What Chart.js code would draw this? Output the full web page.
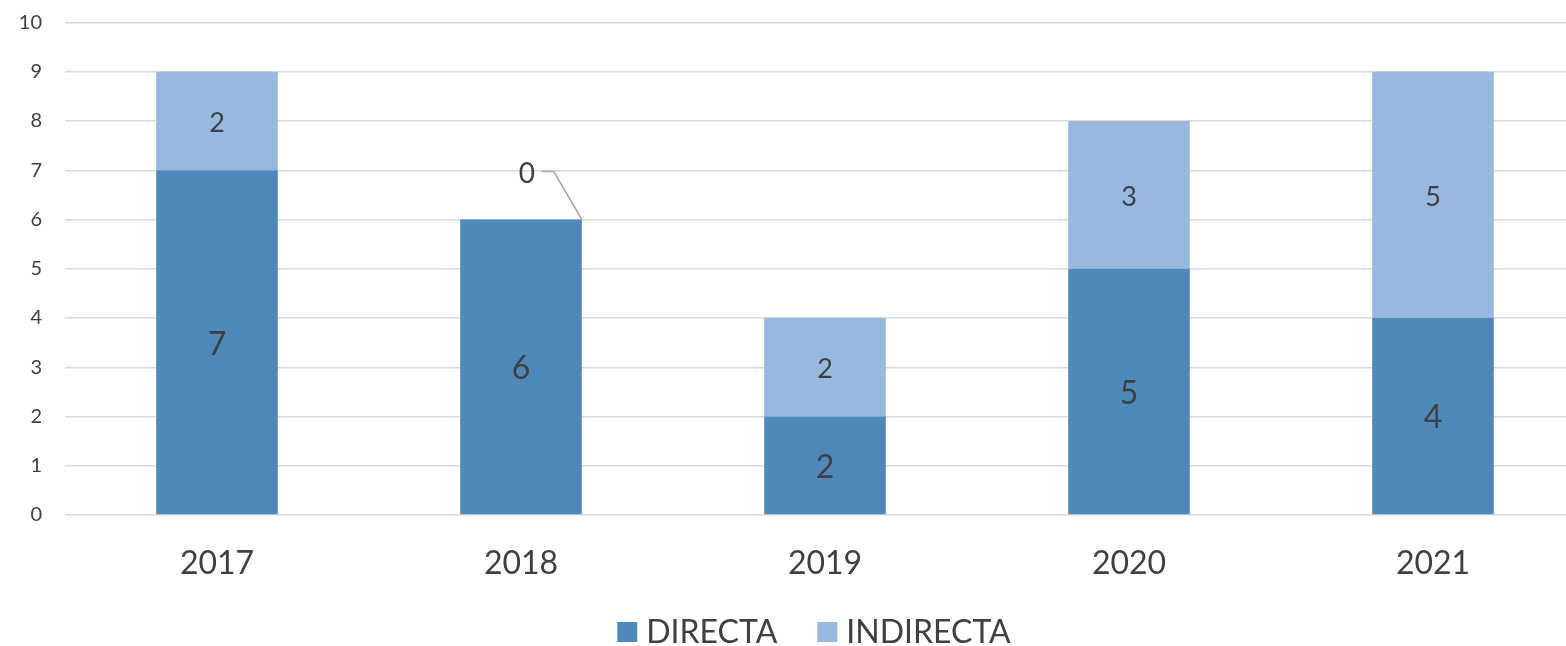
<!DOCTYPE html>
<html>
<head>
<meta charset="utf-8">
<script src="https://cdn.jsdelivr.net/npm/chart.js@4/dist/chart.umd.min.js"></script>
<style>
html,body{margin:0;padding:0;overflow:hidden;background:#fff;}
#wrap{width:1628px;height:646px;}
</style>
</head>
<body>
<div id="wrap"><canvas id="c" width="1628" height="646"></canvas></div>
<script>
const categories = ["2017", "2018", "2019", "2020", "2021"];
const directa = [7, 6, 2, 5, 4];
const indirecta = [2, 0, 2, 3, 5];
const yTicks = [0, 1, 2, 3, 4, 5, 6, 7, 8, 9, 10];

const FONT = "Lato, 'Open Sans', sans-serif";
const TXT = "#404040";

const labelPlugin = {
  id: "barLabels",
  afterDatasetsDraw(chart) {
    const ctx = chart.ctx;
    ctx.save();
    ctx.textAlign = "center";
    ctx.textBaseline = "middle";
    ctx.fillStyle = TXT;
    chart.data.datasets.forEach((ds, di) => {
      const meta = chart.getDatasetMeta(di);
      const size = di === 0 ? 32 : 27;
      meta.data.forEach((bar, i) => {
        const v = ds.data[i];
        if (v === 0) {
          const rx = bar.x + bar.width / 2;
          const ty = bar.y;
          ctx.strokeStyle = "#a6a6a6";
          ctx.lineWidth = 1.5;
          ctx.beginPath();
          ctx.moveTo(rx, ty);
          ctx.lineTo(rx - 28, ty - 48);
          ctx.lineTo(rx - 40, ty - 48);
          ctx.stroke();
          ctx.font = "28px " + FONT;
          ctx.fillText(String(v), rx - 55, ty - 46);
        } else {
          ctx.font = size + "px " + FONT;
          ctx.fillText(String(v), bar.x, (bar.y + bar.base) / 2 + 2);
        }
      });
    });
    ctx.restore();
  }
};

const legendPlugin = {
  id: "customLegend",
  afterDraw(chart) {
    const ctx = chart.ctx;
    ctx.save();
    ctx.font = "32px " + FONT;
    ctx.textBaseline = "middle";
    ctx.textAlign = "left";
    const box = 20, gap = 9, itemGap = 40, cy = 632;
    const items = chart.data.datasets.map(ds => ({ text: ds.label, color: ds.backgroundColor, w: ctx.measureText(ds.label).width }));
    let total = 0;
    items.forEach((it, i) => { total += box + gap + it.w + (i ? itemGap : 0); });
    let x = 814 - total / 2;
    items.forEach((it, i) => {
      if (i) x += itemGap;
      ctx.fillStyle = it.color;
      ctx.fillRect(x, cy - box / 2, box, box);
      x += box + gap;
      ctx.fillStyle = TXT;
      ctx.fillText(it.text, x, cy + 1);
      x += it.w;
    });
    ctx.restore();
  }
};

new Chart(document.getElementById("c"), {
  type: "bar",
  data: {
    labels: categories,
    datasets: [
      { label: "DIRECTA", data: directa, backgroundColor: "#4f89bc", borderWidth: 0 },
      { label: "INDIRECTA", data: indirecta, backgroundColor: "#97b9df", borderWidth: 0 }
    ]
  },
  options: {
    responsive: false,
    animation: false,
    layout: { padding: { top: 22.5, right: 43, left: 0, bottom: 0 } },
    datasets: { bar: { categoryPercentage: 1, barPercentage: 0.4 } },
    plugins: {
      legend: { display: false },
      tooltip: { enabled: false }
    },
    scales: {
      x: {
        stacked: true,
        afterFit(scale) { scale.height = 131; scale.paddingLeft = 0; scale.paddingRight = 0; },
        grid: { display: false, drawTicks: false },
        border: { display: false },
        ticks: { font: { family: FONT, size: 32 }, color: TXT, padding: 29 }
      },
      y: {
        stacked: true,
        min: 0,
        max: 10,
        afterBuildTicks(scale) { scale.ticks = yTicks.map(v => ({ value: v })); },
        afterFit(scale) { scale.width = 65; scale.paddingTop = 0; scale.paddingBottom = 0; },
        grid: { color: "#d9d9d9", lineWidth: 1.5, drawTicks: false },
        border: { display: false },
        ticks: { font: { family: FONT, size: 20 }, color: TXT, padding: 23 }
      }
    }
  },
  plugins: [labelPlugin, legendPlugin]
});
</script>
</body>
</html>
